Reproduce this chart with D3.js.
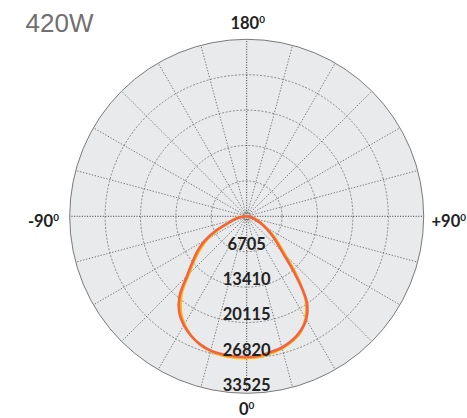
<!DOCTYPE html>
<html>
<head>
<meta charset="utf-8">
<script src="https://cdn.jsdelivr.net/npm/d3@7"></script>
<style>
html,body{margin:0;padding:0;background:#fff;}
svg{display:block;}
</style>
</head>
<body>
<svg id="chart" width="467" height="418"></svg>
<script>
// ---- data ----
const titleText = "420W";
const gammaAngles = [-90,-85,-80,-75,-70,-65,-60,-55,-50,-45,-40,-35,-30,-25,-20,-15,-10,-5,0,5,10,15,20,25,30,35,40,45,50,55,60,65,70,75,80,85,90];
const seriesRed = [0,500,1400,2500,3700,6400,9050,11280,13370,16000,19800,22270,23810,24960,25810,26330,26530,26620,26650,26500,26120,25730,25050,24010,22540,19870,14200,9480,7170,5380,3870,2700,1800,1100,600,250,0];
const seriesYellow = [0,600,1600,2700,3700,6000,8500,10700,12900,15500,19200,21800,23600,24900,25850,26450,26750,26850,26850,26750,26350,25900,25200,24200,22300,19500,14900,10200,7700,5800,4100,2900,1900,1200,650,280,0];
const ringValues = [6705, 13410, 20115, 26820, 33525];
const spokeAngles = d3.range(0, 360, 15);
const angleLabels = [
  {text: "180", pos: "top"},
  {text: "-90", pos: "left"},
  {text: "+90", pos: "right"},
  {text: "0", pos: "bottom"}
];

// ---- layout ----
const cx = 246.7, cy = 216.3, R = 177;
const svg = d3.select("#chart");
const rScale = d3.scaleLinear().domain([0, d3.max(ringValues)]).range([0, R]);
const g = svg.append("g").attr("transform", `translate(${cx},${cy})`);

// disk
g.append("circle").attr("r", R).attr("fill", "#e9eaeb").attr("stroke", "#7a7a7a").attr("stroke-width", 1);

// rings (inner ones dashed)
g.selectAll("circle.ring").data(ringValues.slice(0, -1)).join("circle")
  .attr("class", "ring").attr("r", d => rScale(d))
  .attr("fill", "none").attr("stroke", "#6e6e6e").attr("stroke-width", 0.8)
  .attr("stroke-dasharray", "2,1.6");

// tiny center rings
g.selectAll("circle.tiny").data([1.6, 3.2, 4.6]).join("circle")
  .attr("class", "tiny").attr("r", d => d)
  .attr("fill", "none").attr("stroke", "#666").attr("stroke-width", 0.6)
  .attr("stroke-dasharray", "1,0.8");

// spokes
g.selectAll("line.spoke").data(spokeAngles).join("line")
  .attr("class", "spoke")
  .attr("x1", 0).attr("y1", 0)
  .attr("x2", d => R * Math.sin(d * Math.PI / 180))
  .attr("y2", d => -R * Math.cos(d * Math.PI / 180))
  .attr("stroke", d => d % 90 === 0 ? "#222" : "#555")
  .attr("stroke-width", d => d % 90 === 0 ? 0.9 : 0.75)
  .attr("stroke-dasharray", d => d % 90 === 0 ? "1,1.6" : "1.4,1.6");

// curves
const toRad = a => Math.PI - a * Math.PI / 180;
function radialLine(values) {
  return d3.lineRadial()
    .angle((d, i) => toRad(gammaAngles[i]))
    .radius(d => rScale(d))
    .curve(d3.curveCatmullRom.alpha(0.5))(values);
}
g.append("path").attr("d", radialLine(seriesYellow))
  .attr("fill", "none").attr("stroke", "#fbb514").attr("stroke-width", 2.6);
g.append("path").attr("d", radialLine(seriesRed))
  .attr("fill", "none").attr("stroke", "#f0643f").attr("stroke-width", 2.6);

// ring labels
g.selectAll("text.rl").data(ringValues).join("text")
  .attr("class", "rl")
  .attr("x", 0).attr("y", d => rScale(d) - 2)
  .attr("text-anchor", "middle")
  .attr("font-family", "Lato, 'Open Sans', sans-serif")
  .attr("font-weight", "bold").attr("font-size", 16.5)
  .attr("fill", "#222")
  .text(d => d);

// angle labels
const lblFont = "Lato, 'Open Sans', sans-serif";
angleLabels.forEach(l => {
  let x, y, anchor;
  if (l.pos === "top") { x = cx + 1; y = 29; anchor = "middle"; }
  else if (l.pos === "bottom") { x = cx; y = 414.5; anchor = "middle"; }
  else if (l.pos === "left") { x = 59; y = 226.7; anchor = "end"; }
  else { x = 431.5; y = 226.7; anchor = "start"; }
  const t = svg.append("text").attr("x", x).attr("y", y).attr("text-anchor", anchor)
    .attr("font-family", lblFont).attr("font-weight", "bold").attr("font-size", 16.5).attr("fill", "#222");
  t.append("tspan").text(l.text);
  t.append("tspan").attr("font-size", 10).attr("dy", -6).text("0");
});

// title
svg.append("text").attr("x", 25.5).attr("y", 31.5)
  .attr("font-family", "'Liberation Sans', Arial, sans-serif")
  .attr("font-size", 26).attr("fill", "#707070")
  .text(titleText);
</script>
</body>
</html>
